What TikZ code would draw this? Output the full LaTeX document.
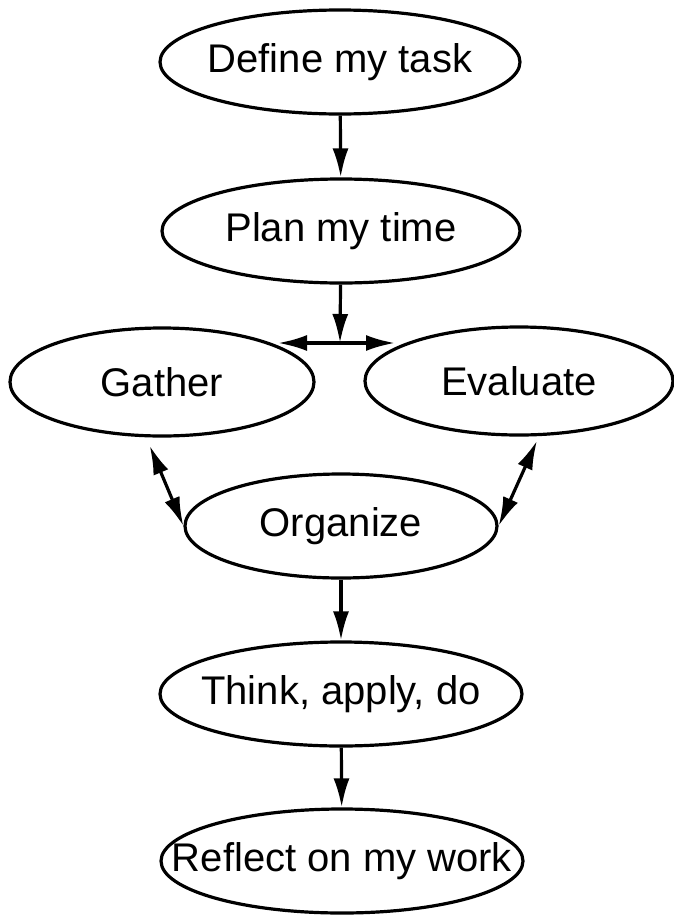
\documentclass[tikz,border=0pt]{standalone}
\usepackage{fontspec}
\setmainfont{Liberation Sans}
\usepackage{tikz}
\usetikzlibrary{shapes.geometric,arrows.meta}

\begin{document}
\begin{tikzpicture}[x=0.5pt,y=-0.5pt,
	bubble/.style={shape=ellipse,draw,line width=1.6pt,inner sep=0pt,minimum height=52pt,font=\fontsize{20}{24}\selectfont},
	flow/.style={line width=1.6pt,-{Latex[length=14.5pt,width=8pt]}},
	twoway/.style={line width=1.6pt,{Latex[length=14.5pt,width=8pt]}-{Latex[length=14.5pt,width=8pt]}}]
	\useasboundingbox (0,0) rectangle (674,916);
	% steps, top to bottom
	\node (define) at(340,62)[bubble,minimum width=180pt]{\makebox[0pt]{Define my task}};
	\node (plan) at(341,231)[bubble,minimum width=179pt]{\makebox[0pt]{Plan my time}};
	\node (gather) at(162,382)[bubble,minimum width=152pt,minimum height=54pt]{\makebox[0pt]{Gather}};
	\node (evaluate) at(519,381)[bubble,minimum width=154pt,minimum height=54pt]{\makebox[0pt]{Evaluate}};
	\node (organize) at(341,526)[bubble,minimum width=156pt]{\makebox[0pt]{Organize}};
	\node (think) at(341,694)[bubble,minimum width=181pt]{\makebox[0pt]{Think, apply, do}};
	\node (reflect) at(342,861)[bubble,minimum width=181pt]{\makebox[0pt]{Reflect on my work}};
	% split under plan
	\coordinate (split) at(340,343);
	\coordinate (toleft) at(278,343);
	\coordinate (toright) at(395,343);
	\draw[flow] (define) -- (plan);
	\draw[flow] (plan) -- (split);
	\draw[twoway] (toleft) -- (toright);
	\draw[twoway,shorten <=4.5pt] (gather.-106) -- (organize.west);
	\draw[twoway,shorten <=2.5pt] (evaluate.-70) -- (organize.east);
	\draw[flow] (organize) -- (think);
	\draw[flow] (think) -- (reflect);
\end{tikzpicture}
\end{document}
